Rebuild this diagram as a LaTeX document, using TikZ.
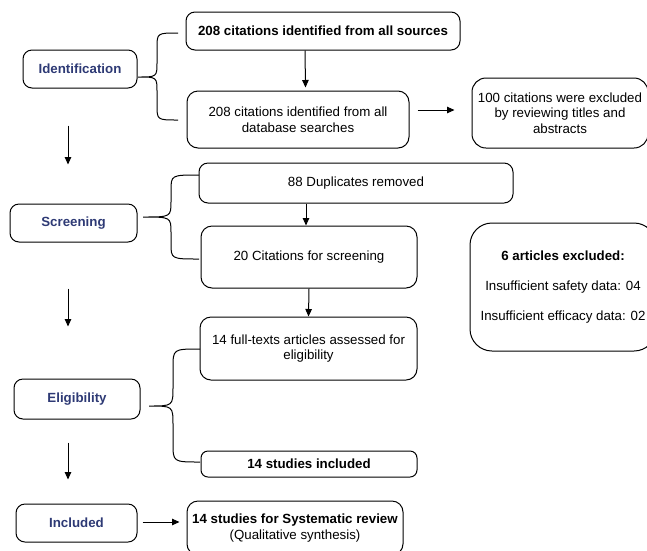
\documentclass[tikz,border=0pt]{standalone}
\usepackage{fontspec}
\setmainfont{Liberation Sans}
\usetikzlibrary{arrows.meta,calc}
\definecolor{navy}{HTML}{2E3A75}
\newcommand\myfs{\fontsize{13.3}{15.5}\selectfont}
\begin{document}
\begin{tikzpicture}[x=1pt,y=-1pt,line width=1pt,
  box/.style={draw,rounded corners=9pt,align=center,inner sep=0pt,font=\myfs},
  boldbox/.style={box,font=\myfs\bfseries},
  phase/.style={box,text=navy,font=\myfs\bfseries},
  arr/.style={-{Triangle[width=6.5pt,length=7.5pt]}},
  bracket/.style={draw}]
\useasboundingbox (0,0) rectangle (647,550);

% main boxes
\node[boldbox,minimum width=274pt,minimum height=38pt] (src) at (323,31) {208 citations identified from all sources};
\node[box,minimum width=222pt,minimum height=57pt,rounded corners=11pt] (db) at (298,119.5) {208 citations identified from all\\database searches};
\node[box,minimum width=176pt,minimum height=70pt,rounded corners=14pt] (exc) at (560,113) {100 citations were excluded\\by reviewing titles and\\abstracts};
\node[box,minimum width=314pt,minimum height=40pt] (dup) at (356,183) {88 Duplicates removed};
\node[box,minimum width=216pt,minimum height=62pt,rounded corners=11pt] (cit) at (309,257) {20 Citations for screening};
\node[box,minimum width=186pt,minimum height=128pt,rounded corners=22pt] (ex6) at (563,287) {\textbf{6 articles excluded:}\\[14.5pt]Insufficient safety data: 04\\[14.5pt]Insufficient efficacy data: 02};
\node[box,minimum width=217pt,minimum height=63pt,rounded corners=11pt] (full) at (308.5,348.5) {14 full-texts articles assessed for\\eligibility};
\node[boldbox,minimum width=216pt,minimum height=26pt,rounded corners=7pt] (inc) at (309,464) {14 studies included};
\node[box,minimum width=216pt,minimum height=54pt,rounded corners=11pt] (sys) at (295,528) {\textbf{14 studies for Systematic review}\\(Qualitative synthesis)};

% phase labels
\node[phase,minimum width=114pt,minimum height=38pt] (ident) at (80,69) {Identification};
\node[phase,minimum width=127pt,minimum height=38pt] (screen) at (73.5,223) {Screening};
\node[phase,minimum width=126pt,minimum height=40pt] (elig) at (77,399) {Eligibility};
\node[phase,minimum width=121pt,minimum height=38pt] (incl) at (76.5,523) {Included};

% arrows
\draw[arr] ([xshift=-18pt]src.south) -- ([xshift=7.5pt,yshift=3pt]db.north);
\draw[arr] ($(db.east)+(8,-9.5)$) -- ($(exc.west)+(-17,-3)$);
\draw[arr] ([xshift=-50pt]dup.south) -- ([xshift=-3pt]cit.north);
\draw[arr] (cit.south) -- (full.north);
\draw[arr] ($(incl.east)+(5,-1)$) -- ($(sys.west)+(-7,-6)$);
\draw[arr] ($(ident.south)+(-12,37)$) -- ($(screen.north)+(-5.5,-39)$);
\draw[arr] ($(screen.south)+(-5.5,46)$) -- ($(elig.north)+(-9,-52)$);
\draw[arr] ($(elig.south)+(-9,23)$) -- ($(incl.north)+(-8.5,-24)$);

% braces
\path[bracket] (178,33) .. controls (157,33) .. (157,48) -- (157,62)
  .. controls (157,77) .. (138,77) .. controls (157,77) .. (157,92)
  -- (157,105) .. controls (157,120) .. (178,120);
\path[bracket] (199,175) .. controls (171,175) .. (171,191) -- (171,201)
  .. controls (171,217) .. (143,217) .. controls (171,217) .. (171,233)
  -- (171,243) .. controls (171,259) .. (199,259);
\path[bracket] (200,349) .. controls (173,349) .. (173,368) -- (173,387)
  .. controls (173,406) .. (149,406) .. controls (173,406) .. (173,425)
  -- (173,443) .. controls (173,462) .. (200,462);
\end{tikzpicture}
\end{document}
